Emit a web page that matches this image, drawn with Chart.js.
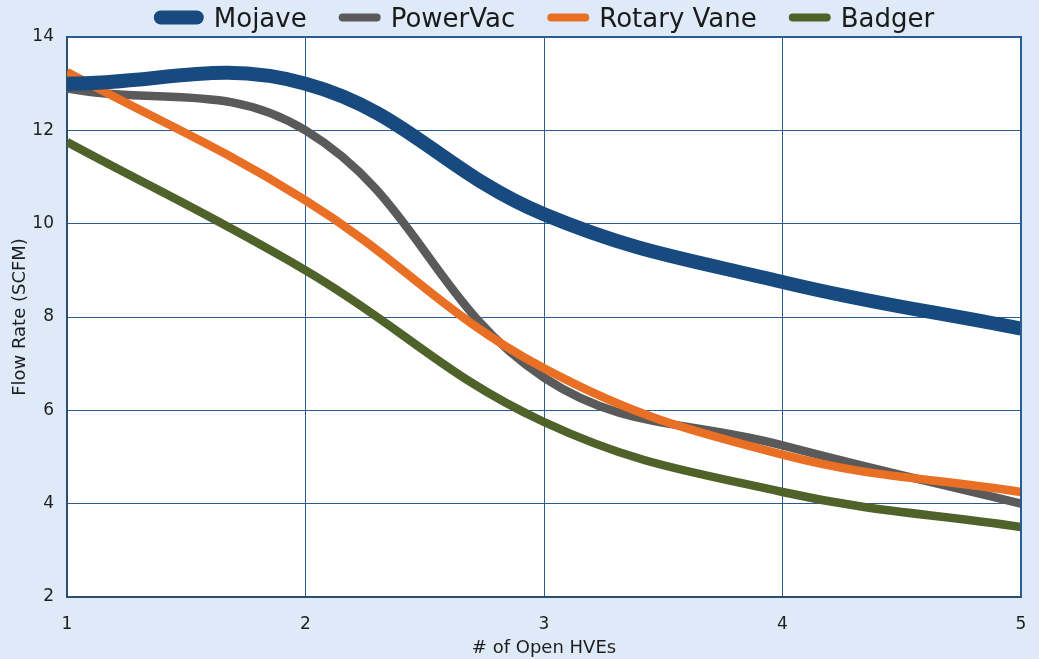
<!DOCTYPE html>
<html>
<head>
<meta charset="utf-8">
<script src="https://cdn.jsdelivr.net/npm/chart.js@4.4.1/dist/chart.umd.min.js"></script>
<style>
  html, body { margin: 0; padding: 0; background: #deeaf7; }
  #wrap { width: 1039px; height: 659px; }
  canvas { display: block; }
</style>
</head>
<body>
<div id="wrap"><canvas id="c" width="1039" height="659"></canvas></div>
<script>
// ---- data ----
const openHVEs = [1, 2, 3, 4, 5];
const mojave = [13.0, 13.0, 10.2, 8.75, 7.75];
const powerVac = [12.9, 12.0, 6.7, 5.25, 4.0];
const rotaryVane = [13.25, 10.5, 6.9, 5.05, 4.25];
const badger = [11.75, 9.0, 5.75, 4.25, 3.5];
const seriesNames = ['Mojave', 'PowerVac', 'Rotary Vane', 'Badger'];
const yTickValues = [2, 4, 6, 8, 10, 12, 14];
const xTickValues = [1, 2, 3, 4, 5];
const xTitle = '# of Open HVEs';
const yTitle = 'Flow Rate (SCFM)';

const FONT = '"DejaVu Sans", "Liberation Sans", sans-serif';
const colors = ['#174a7e', '#5a5a5a', '#e86f24', '#4e6229'];
const widths = [14, 8.5, 8.5, 8.5];
const allSeries = [mojave, powerVac, rotaryVane, badger];

const toPts = arr => openHVEs.map((x, i) => ({ x: x, y: arr[i] }));

const datasets = allSeries.map((arr, i) => ({
  label: seriesNames[i],
  data: toPts(arr),
  borderColor: colors[i],
  backgroundColor: colors[i],
  borderWidth: widths[i],
  pointRadius: 0,
  pointHoverRadius: 0,
  tension: 0.4,
  fill: false,
  clip: 0
}));
datasets.forEach((d, i) => { d.order = 4 - i; });
datasets[0].order = 0;

const bgPlugin = {
  id: 'bgPlugin',
  beforeDraw(chart) {
    const { ctx, chartArea: a } = chart;
    ctx.save();
    ctx.fillStyle = '#deeaf7';
    ctx.fillRect(0, 0, chart.width, chart.height);
    ctx.fillStyle = '#ffffff';
    ctx.fillRect(a.left, a.top, a.right - a.left, a.bottom - a.top);
    ctx.restore();
  },
  afterDatasetsDraw(chart) {
    const { ctx, chartArea: a } = chart;
    ctx.save();
    ctx.strokeStyle = '#2b5b93';
    ctx.lineWidth = 2;
    ctx.beginPath();
    ctx.moveTo(a.left, a.top);
    ctx.lineTo(a.right, a.top);
    ctx.lineTo(a.right, a.bottom);
    ctx.stroke();
    ctx.restore();
  },
  afterDraw(chart) {
    const ctx = chart.ctx;
    const a = chart.chartArea;
    ctx.save();
    ctx.font = '26px ' + FONT;
    const items = chart.data.datasets.map((ds, i) => ({
      text: ds.label,
      color: ds.borderColor,
      thick: i === 0 ? 14 : 8,
      len: i === 0 ? 50 : 42
    }));
    const gapAfterSym = 10, gapBetween = 32;
    let total = 0;
    items.forEach((it, i) => {
      it.tw = ctx.measureText(it.text).width;
      total += it.len + gapAfterSym + it.tw + (i < items.length - 1 ? gapBetween : 0);
    });
    let x = (a.left + a.right) / 2 - total / 2;
    const cy = 17.5;
    items.forEach(it => {
      ctx.strokeStyle = it.color;
      ctx.lineWidth = it.thick;
      ctx.lineCap = 'round';
      ctx.beginPath();
      ctx.moveTo(x + it.thick / 2, cy);
      ctx.lineTo(x + it.len - it.thick / 2, cy);
      ctx.stroke();
      x += it.len + gapAfterSym;
      ctx.fillStyle = '#1a1a1a';
      ctx.textBaseline = 'alphabetic';
      ctx.textAlign = 'left';
      ctx.fillText(it.text, x, 26.5);
      x += it.tw + gapBetween;
    });
    ctx.restore();
  }
};

new Chart(document.getElementById('c'), {
  type: 'line',
  data: { datasets: datasets },
  options: {
    responsive: false,
    devicePixelRatio: 1,
    animation: false,
    events: [],
    layout: { padding: { top: 37, right: 18, left: 0, bottom: 0 } },
    plugins: {
      legend: { display: false },
      tooltip: { enabled: false },
      title: { display: false }
    },
    scales: {
      x: {
        type: 'linear',
        min: 1,
        max: 5,
        afterBuildTicks(scale) { scale.ticks = xTickValues.map(v => ({ value: v })); },
        afterFit(scale) { scale.height = 62; scale.paddingLeft = 0; scale.paddingRight = 0; },
        ticks: {
          font: { family: FONT, size: 17 },
          color: '#1e1e1e',
          padding: 17,
          maxRotation: 0,
          callback: v => String(v)
        },
        grid: { color: '#2b5b93', lineWidth: 1, drawTicks: false },
        border: { color: '#2f4d6d', width: 2 },
        title: {
          display: true,
          text: xTitle,
          font: { family: FONT, size: 18 },
          color: '#1e1e1e',
          padding: { top: 0, bottom: 0 }
        }
      },
      y: {
        type: 'linear',
        min: 2,
        max: 14,
        afterBuildTicks(scale) { scale.ticks = yTickValues.map(v => ({ value: v })); },
        afterFit(scale) { scale.width = 67; scale.paddingTop = 0; scale.paddingBottom = 0; },
        ticks: {
          font: { family: FONT, size: 17 },
          color: '#1e1e1e',
          padding: 13,
          callback: v => String(v)
        },
        grid: { color: '#2b5b93', lineWidth: 1, drawTicks: false },
        border: { color: '#2f4d6d', width: 2 },
        title: {
          display: true,
          text: yTitle,
          font: { family: FONT, size: 18 },
          color: '#1e1e1e',
          padding: { top: 10, bottom: 0 }
        }
      }
    }
  },
  plugins: [bgPlugin]
});
</script>
</body>
</html>
